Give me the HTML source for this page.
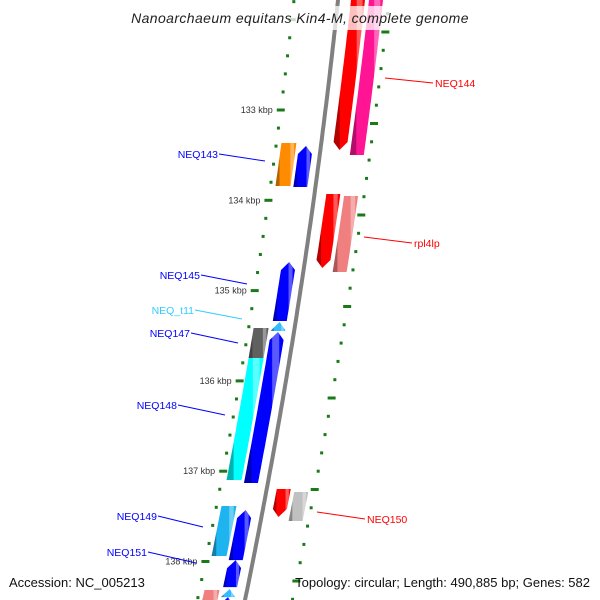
<!DOCTYPE html>
<html><head><meta charset="utf-8">
<style>
html,body{margin:0;padding:0;background:#fff;}
svg{display:block;font-family:"Liberation Sans","DejaVu Sans",sans-serif;}
</style></head>
<body>
<svg id="map" width="600" height="600" viewBox="0 0 600 600" xmlns="http://www.w3.org/2000/svg">
<defs id="defs"></defs>
<g id="rulers"></g>
<path id="backbone" fill="none" stroke="#808080" stroke-width="4"/>
<g id="genes"></g>
<g id="labels"></g>
<rect x="118" y="6" width="364" height="24" fill="#fff" opacity="0.75"/>
<text x="300" y="23" text-anchor="middle" font-size="14" font-style="italic" fill="#222" letter-spacing="0.4">Nanoarchaeum equitans Kin4-M, complete genome</text>
<text x="9" y="587" font-size="13" fill="#111">Accession: NC_005213</text>
<text x="590" y="587" text-anchor="end" font-size="13" fill="#111">Topology: circular; Length: 490,885 bp; Genes: 582</text>
</svg>
<script>
// ---- data ----
const geneStart = [131.67,131.67,133.365,133.399,133.930,133.952,134.683,135.348,135.414,135.458,135.746,137.197,137.230,137.385,137.430,137.984,138.316,138.305,138.394];
const geneEnd   = [133.443,133.498,133.842,133.853,134.750,134.794,135.337,135.447,135.746,137.131,137.097,137.507,137.551,137.939,137.984,138.283,138.60,138.394,138.60];
const geneLane  = ['o1','o2','i2','i1','o1','o2','i1','i1','i2','i1','i2','o1','o2','i2','i1','i1','i2','i1','i1'];
const geneDir   = ['down','none','none','up','down','none','up','up','none','up','none','down','none','none','up','up','none','up','up'];
const geneColor = ['#ff0000','#ff1493','#ff8c00','#0000ff','#ff0000','#f08080','#0000ff','#33bbff','#606060','#0000ff','#00ffff','#ff0000','#c0c0c0','#1eb4f0','#0000ff','#0000ff','#f08080','#33bbff','#0000ff'];
const kbpTicks = [133,134,135,136,137,138];
const labelNames = ['NEQ144','NEQ143','rpl4lp','NEQ145','NEQ_t11','NEQ147','NEQ148','NEQ149','NEQ150','NEQ151'];
const labelColors = ['#ff0000','#0000ff','#ff0000','#0000ff','#33ccff','#0000ff','#0000ff','#0000ff','#ff0000','#0000ff'];
const labelSide = ['r','l','r','l','l','l','l','l','r','l'];
const labelTextX = [435,218,414,200,194,190,177,157,367,147];
const labelTextY = [87,158,247,279,314,337,409,520,523,556];
const labelLineX = [385,265,364,247,242,238,225,203,317,196];
const labelLineY = [78,161,237,284,319,343,415,527,512,563];

// ---- geometry ----
const NS='http://www.w3.org/2000/svg';
function yOf(k){return 110+(k-133)*90.3;}
function bx(y){return 338-0.105*y-8.33e-5*y*y;}
function cx(y){return bx(y)+3-0.006*y;}
const lanes={i1:[-24,-10],i2:[-42,-27],o1:[10,24],o2:[28,42]};
function mk(tag,attrs,parent){const e=document.createElementNS(NS,tag);for(const k in attrs)e.setAttribute(k,attrs[k]);parent.appendChild(e);return e;}

let d='';for(let y=-10;y<=610;y+=5){d+=(y===-10?'M':'L')+bx(y).toFixed(1)+','+y+' ';}
document.getElementById('backbone').setAttribute('d',d);

const rg=document.getElementById('rulers');
for(let k=131.6;k<=138.8;k+=0.2){
  const kk=Math.round(k*10)/10;
  const y=yOf(kk);
  if(y<-5||y>605)continue;
  const major=Math.abs(kk-Math.round(kk))<0.01;
  const x=cx(y)-47;
  const t=mk('rect',{x:major?x-4:x-1.5,y:y-1.5,width:major?8:3,height:3,fill:'#1a7a1a'},rg);
  
  
}
for(let y=32-18.3*2;y<=605;y+=18.3){
  if(y<-5)continue;
  const i=Math.round((y-32)/18.3);
  const major=((i%5)+5)%5===0;
  const x=cx(y)+48;
  const t=mk('rect',{x:major?x-4:x-1.5,y:y-1.5,width:major?8:3,height:3,fill:'#1a7a1a'},rg);
  
  
}
kbpTicks.forEach(k=>{
  const y=yOf(k);
  const t=mk('text',{x:cx(y)-55,y:y+3,'text-anchor':'end','font-size':'9',fill:'#333'},rg);
  t.textContent=k+' kbp';
  
  
});

const defs=document.getElementById('defs');
function shade(hex,f){const n=parseInt(hex.slice(1),16);let r=n>>16,g=(n>>8)&255,b=n&255;
  if(f<0){r*=1+f;g*=1+f;b*=1+f;}else{r+=(255-r)*f;g+=(255-g)*f;b+=(255-b)*f;}
  return 'rgb('+Math.round(r)+','+Math.round(g)+','+Math.round(b)+')';}
const gg=document.getElementById('genes');
geneStart.forEach((s,i)=>{
  const col=geneColor[i];
  const gid='gr'+i;
  const lg=mk('linearGradient',{id:gid,x1:'0',y1:'0',x2:'1',y2:'0'},defs);
  [[0,shade(col,-0.3)],[0.18,shade(col,-0.3)],[0.2,col],[0.7,col],[0.72,shade(col,0.35)],[0.88,shade(col,0.35)],[0.9,col],[1,col]].forEach(st=>mk('stop',{offset:st[0],'stop-color':st[1]},lg));
  const y1=yOf(s),y2=yOf(geneEnd[i]);
  const [o1,o2]=lanes[geneLane[i]];
  const tip=Math.min(8,y2-y1);
  const dir=geneDir[i];
  const by1=dir==='up'?y1+tip:y1, by2=dir==='down'?y2-tip:y2;
  const L=[],R=[];
  const n=Math.max(2,Math.ceil((by2-by1)/5));
  for(let j=0;j<=n;j++){const y=by1+(by2-by1)*j/n;L.push([cx(y)+o1,y]);R.push([cx(y)+o2,y]);}
  let pts=[];
  if(dir==='up'){pts.push([cx(y1)+(o1+o2)/2,y1]);}
  pts=pts.concat(R);
  if(dir==='down'){pts.push([cx(y2)+(o1+o2)/2,y2]);}
  pts=pts.concat(L.reverse());
  const p=mk('polygon',{points:pts.map(q=>q[0].toFixed(1)+','+q[1].toFixed(1)).join(' '),fill:'url(#'+gid+')'},gg);
  
  
});

const lg2=document.getElementById('labels');
labelNames.forEach((nm,i)=>{
  const tx=labelTextX[i],ty=labelTextY[i];
  const lx0=labelSide[i]==='r'?tx-2:tx+1;
  const l=mk('line',{x1:lx0,y1:ty-4,x2:labelLineX[i],y2:labelLineY[i],stroke:labelColors[i],'stroke-width':1},lg2);
  
  
  const t=mk('text',{x:tx,y:ty,'text-anchor':labelSide[i]==='r'?'start':'end','font-size':'10.5',fill:labelColors[i]},lg2);
  t.textContent=nm;
  
  
});
</script>
</body></html>
